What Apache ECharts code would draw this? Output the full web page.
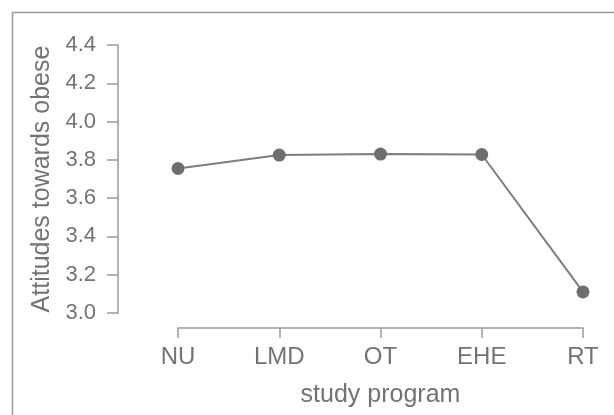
<!DOCTYPE html>
<html>
<head>
<meta charset="utf-8">
<script src="https://cdn.jsdelivr.net/npm/echarts@6/dist/echarts.min.js"></script>
<style>
  html, body { margin: 0; padding: 0; background: #fff; }
  #chart { width: 614px; height: 415px; }
</style>
</head>
<body>
<div id="chart"></div>
<script>
// study programs and mean attitude scores
const programs = ['NU', 'LMD', 'OT', 'EHE', 'RT']
const attitudes = [3.755, 3.825, 3.83, 3.828, 3.11]
const yTicks = [3.0, 3.2, 3.4, 3.6, 3.8, 4.0, 4.2, 4.4]

const grey = '#737376'
const chart = echarts.init(document.getElementById('chart'))

chart.setOption({
  animation: false,
  textStyle: { fontFamily: 'Liberation Sans, Arial, sans-serif' },
  grid: {
    left: 178,
    right: 31,
    top: 45,
    bottom: 102
  },
  // frame: only the top and left edges are visible
  graphic: [{
    type: 'polyline',
    shape: { points: [[12.5, 415], [12.5, 12.5], [614, 12.5]] },
    style: { stroke: '#9a9a9c', lineWidth: 1.5, fill: null },
    silent: true
  }],
  xAxis: {
    type: 'category',
    data: programs,
    boundaryGap: false,
    offset: 15,
    name: 'study program',
    nameLocation: 'middle',
    nameGap: 55,
    nameTextStyle: { color: grey, fontSize: 25 },
    axisLine: { lineStyle: { color: '#9a9a9c', width: 1.5 } },
    axisTick: { length: 10, alignWithLabel: true, lineStyle: { color: '#9a9a9c', width: 1.5 } },
    axisLabel: { color: grey, fontSize: 24, margin: 17 },
    splitLine: { show: false }
  },
  yAxis: {
    type: 'value',
    min: yTicks[0],
    max: yTicks[yTicks.length - 1],
    interval: 0.2,
    offset: 60,
    name: 'Attitudes towards obese',
    nameLocation: 'middle',
    nameGap: 57,
    nameTextStyle: { color: grey, fontSize: 25 },
    axisLine: { show: true, lineStyle: { color: '#9a9a9c', width: 1.5 } },
    axisTick: { show: true, length: 11, lineStyle: { color: '#9a9a9c', width: 1.5 } },
    axisLabel: {
      color: grey,
      fontSize: 22,
      margin: 22,
      formatter: v => v.toFixed(1)
    },
    splitLine: { show: false }
  },
  series: [{
    type: 'line',
    data: attitudes,
    symbol: 'circle',
    symbolSize: 13,
    lineStyle: { color: '#7d7d80', width: 2 },
    itemStyle: { color: '#6e6e71' }
  }]
})
</script>
</body>
</html>
